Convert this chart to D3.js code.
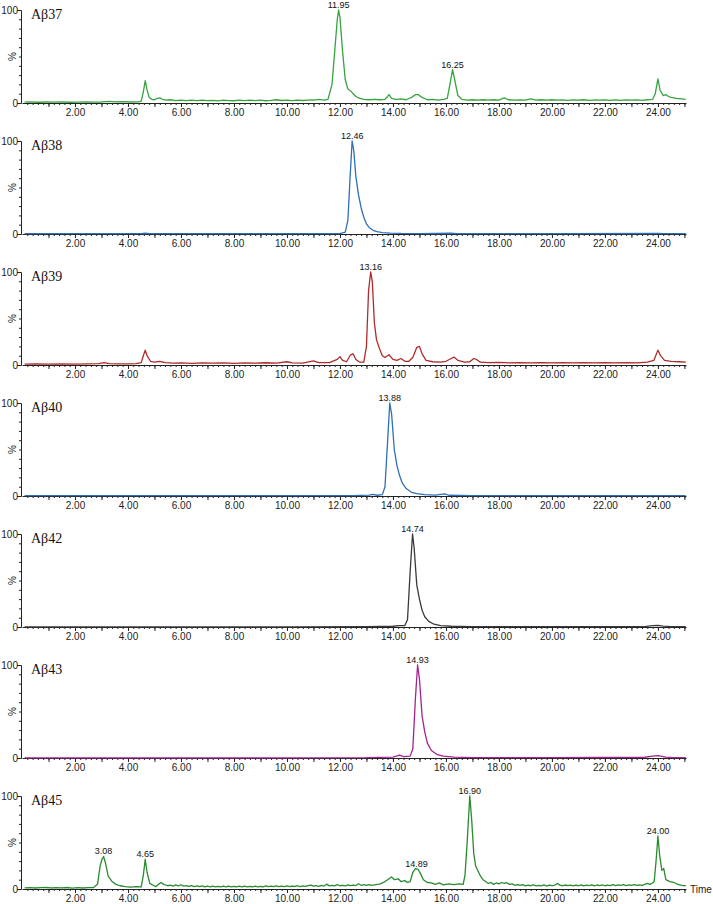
<!DOCTYPE html>
<html>
<head>
<meta charset="utf-8">
<script src="https://cdn.jsdelivr.net/npm/d3@7"></script>
<style>
  body { margin: 0; background: #fff; }
  svg { display: block; }
  .axis text { font-family: "Liberation Sans", Arial, sans-serif; font-size: 10px; fill: #222; }
  .axis path, .axis line { stroke: #222; stroke-width: 1; }
</style>
</head>
<body>
<svg id="chart"></svg>
<script>
// Panel names and trace colours
const panelNames = ["Aβ37", "Aβ38", "Aβ39", "Aβ40", "Aβ42", "Aβ43", "Aβ45"];
const panelColors = ["#36a43f", "#2f6fb8", "#b02b2b", "#2f6fb8", "#3a3a3a", "#a3248e", "#2a8a30"];

// Traces: [time (min), relative intensity (%)]
const ab37 = [[0.1,1],[0.3,1.2],[0.6,0.8],[0.9,1.1],[1.2,0.9],[1.5,1.2],[1.8,0.8],[2.1,1],[2.4,1.1],[2.7,0.9],[3.0,1.1],[3.3,1.8],[3.5,1.2],[3.8,1.4],[4.1,1.1],[4.4,1.3],[4.5,2],[4.58,12],[4.65,24],[4.72,14],[4.8,6],[4.9,4],[5.0,3.5],[5.1,5],[5.2,5.5],[5.3,4],[5.45,3],[5.6,3.5],[5.8,2.5],[6.0,3],[6.2,2.5],[6.4,3],[6.6,2.5],[6.8,3.2],[7.0,2.5],[7.2,2.8],[7.4,2.3],[7.6,3],[7.8,2.6],[8.0,2.4],[8.2,3],[8.4,2.5],[8.6,3.2],[8.8,2.6],[9.0,3],[9.2,2.4],[9.4,2.8],[9.6,3.5],[9.8,2.7],[10.0,3],[10.2,2.6],[10.4,3.2],[10.6,2.7],[10.8,3],[11.0,3.2],[11.2,4],[11.4,3],[11.55,4],[11.7,20],[11.8,55],[11.9,90],[11.95,100],[12.0,92],[12.1,55],[12.2,25],[12.3,15],[12.4,13],[12.5,10],[12.6,7],[12.75,5],[12.9,4],[13.1,3.5],[13.3,4],[13.5,3.5],[13.7,4],[13.8,7],[13.85,9],[13.95,5],[14.1,4],[14.3,4.5],[14.5,3.5],[14.7,6],[14.85,9],[14.95,9],[15.1,6],[15.3,3.5],[15.5,4],[15.7,3],[15.9,4],[16.05,5],[16.15,20],[16.25,36],[16.33,25],[16.45,8],[16.6,4],[16.8,3],[17.0,3.5],[17.2,3],[17.4,3.5],[17.6,3],[17.8,3.5],[18.0,3],[18.2,5.5],[18.35,3.5],[18.6,3],[18.8,3.4],[19.0,3],[19.2,4.5],[19.4,3],[19.6,3.5],[19.8,3],[20.0,3.5],[20.2,3],[20.4,3.3],[20.6,2.8],[20.8,3.4],[21.0,3],[21.2,3.5],[21.4,2.8],[21.6,3.2],[21.8,3],[22.0,3.4],[22.2,2.9],[22.4,3.3],[22.6,2.8],[22.8,3.3],[23.0,3],[23.2,3.3],[23.4,2.9],[23.6,3.5],[23.8,4],[23.9,10],[24.0,26],[24.08,14],[24.2,8],[24.3,9],[24.4,7],[24.5,6],[24.7,5],[24.9,4.5],[25.05,4]];
const ab38 = [[0.1,0.3],[2,0.3],[4.5,0.3],[4.65,0.8],[4.8,0.3],[8,0.3],[11,0.3],[12.0,0.5],[12.2,2],[12.3,15],[12.38,60],[12.46,100],[12.52,90],[12.6,62],[12.7,42],[12.8,28],[12.9,18],[13.0,11],[13.1,7],[13.25,4],[13.4,2.5],[13.6,1.5],[13.9,1],[14.3,0.6],[15,0.5],[16.2,0.8],[16.4,0.4],[20,0.3],[24,0.6],[24.2,0.3],[25.05,0.3]];
const ab39 = [[0.1,1],[0.5,1.2],[1,0.9],[1.5,1.1],[2,1],[2.5,1.2],[2.9,1.5],[3.1,2.5],[3.3,1.5],[3.6,1.2],[4,1.3],[4.3,1.4],[4.5,2.5],[4.58,10],[4.65,16],[4.72,10],[4.85,4],[5.0,3],[5.2,4],[5.4,2.5],[5.7,2],[6,2.2],[6.4,1.8],[6.8,2.3],[7.2,2],[7.6,2.2],[8.0,1.8],[8.4,2.2],[8.8,2],[9.2,2.4],[9.6,2],[10.0,3.5],[10.2,2.2],[10.6,2],[11.0,4.5],[11.2,2.5],[11.6,2.5],[11.9,6],[12.0,9],[12.1,5],[12.25,3.5],[12.4,11],[12.5,12],[12.6,6],[12.75,3],[12.9,3],[13.0,20],[13.08,80],[13.16,100],[13.22,90],[13.3,45],[13.38,27],[13.5,17],[13.6,10],[13.7,8],[13.85,11],[14.0,6],[14.15,5],[14.3,7],[14.45,4],[14.6,4],[14.75,8],[14.9,19],[15.0,20],[15.1,12],[15.25,5],[15.5,3.5],[15.8,3],[16.0,4],[16.2,7],[16.3,8.5],[16.45,5],[16.7,3],[16.9,3.5],[17.05,7],[17.15,6],[17.3,3],[17.6,2.5],[18,2.8],[18.4,2.3],[18.8,2.6],[19.2,2.2],[19.6,2.6],[20,2.3],[20.4,2.5],[20.8,2.2],[21.2,2.6],[21.6,2.2],[22,2.5],[22.4,2.3],[22.8,2.5],[23.2,2.3],[23.6,3],[23.85,5],[24.0,16],[24.1,10],[24.25,5],[24.5,4],[24.8,3.5],[25.05,3]];
const ab40 = [[0.1,0.3],[3,0.3],[6,0.3],[10,0.3],[12.5,0.4],[13.1,1],[13.25,1.8],[13.4,0.8],[13.6,1.5],[13.7,10],[13.8,60],[13.88,100],[13.95,88],[14.05,50],[14.15,33],[14.25,22],[14.35,14],[14.5,8],[14.7,4],[14.9,2.5],[15.2,1.5],[15.6,1],[15.95,2.2],[16.1,0.8],[17,0.5],[20,0.3],[25.05,0.3]];
const ab42 = [[0.1,0.2],[5,0.2],[10,0.2],[13,0.3],[14.0,0.8],[14.25,1.5],[14.45,1.5],[14.55,8],[14.65,60],[14.74,100],[14.8,85],[14.9,45],[15.0,30],[15.1,18],[15.2,11],[15.35,6],[15.55,3],[15.8,1.5],[16.2,0.8],[17,0.4],[20,0.3],[23.5,0.5],[23.8,1.5],[24.0,1.8],[24.2,1],[24.5,0.4],[25.05,0.3]];
const ab43 = [[0.1,0.2],[5,0.2],[10,0.2],[13,0.3],[14.0,1],[14.25,3],[14.4,1.5],[14.65,2],[14.75,10],[14.85,65],[14.93,100],[15.0,85],[15.1,45],[15.2,28],[15.3,16],[15.45,8],[15.65,4],[15.9,2],[16.3,1],[17,0.5],[20,0.3],[23.5,0.8],[23.8,2],[24.0,2.5],[24.3,1],[24.6,0.4],[25.05,0.3]];
const ab45 = [[0.1,1.2],[0.3,1.5],[0.5,1.1],[0.7,1.4],[0.9,1.6],[1.1,1.1],[1.3,1.5],[1.5,1.2],[1.7,1.6],[1.9,1],[2.1,1.5],[2.3,1.1],[2.5,1.4],[2.7,1.6],[2.85,5],[2.95,25],[3.02,32],[3.08,35],[3.15,28],[3.25,14],[3.4,8],[3.55,5],[3.7,3.5],[3.9,2.5],[4.1,2],[4.3,2.5],[4.5,2.3],[4.58,15],[4.65,32],[4.72,18],[4.82,6],[4.95,4],[5.05,2.5],[5.15,5],[5.25,7],[5.35,5],[5.5,3.5],[5.6,4.2],[5.7,3],[5.8,4.5],[5.9,3.2],[6.0,4.6],[6.1,3.1],[6.2,3.6],[6.3,2.8],[6.4,3.7],[6.5,2.6],[6.6,3.4],[6.7,2.5],[6.8,3.3],[6.9,2.4],[7.0,3.1],[7.1,2.2],[7.2,3],[7.3,2.3],[7.4,2.9],[7.5,2.2],[7.6,3.1],[7.7,2.4],[7.8,3.2],[7.9,2.3],[8.0,2.9],[8.1,2.2],[8.2,3],[8.3,2.4],[8.4,3.1],[8.5,2.3],[8.6,2.8],[8.7,2.2],[8.8,3],[8.9,2.4],[9.0,2.9],[9.1,2.3],[9.2,3.3],[9.3,2.5],[9.4,3.2],[9.5,2.6],[9.6,3.4],[9.7,2.5],[9.8,3.1],[9.9,2.6],[10.0,3.3],[10.1,2.5],[10.2,3.2],[10.3,2.7],[10.4,3.5],[10.5,2.6],[10.6,3.3],[10.7,2.8],[10.8,3.6],[10.9,4.2],[11.0,3],[11.1,3.6],[11.2,2.9],[11.3,3.8],[11.4,3.2],[11.5,5.2],[11.6,3.4],[11.7,3.9],[11.8,3.3],[11.9,4.8],[12.0,3.5],[12.1,4],[12.2,3.4],[12.3,4.4],[12.4,3.6],[12.5,4.2],[12.6,3.7],[12.7,5.6],[12.8,4],[12.9,4.6],[13.0,3.8],[13.1,4.7],[13.2,4],[13.3,4.4],[13.4,4.9],[13.5,5.2],[13.6,6.5],[13.7,8],[13.8,10],[13.95,13],[14.05,10],[14.2,11],[14.3,8],[14.45,9],[14.55,7],[14.65,8],[14.75,18],[14.85,22],[14.95,21],[15.05,16],[15.15,10],[15.3,7],[15.45,6.5],[15.6,5],[15.75,6.5],[15.9,4.5],[16.1,5.5],[16.3,4.8],[16.5,5.5],[16.65,5],[16.72,15],[16.8,50],[16.9,100],[16.97,75],[17.05,38],[17.12,25],[17.2,20],[17.3,14],[17.4,10],[17.5,8],[17.6,6],[17.7,7],[17.8,5],[17.9,6.5],[18.0,5.5],[18.1,7],[18.2,6],[18.3,6.8],[18.4,5],[18.5,5.5],[18.6,4],[18.7,4.8],[18.8,3.8],[18.9,4.6],[19.0,3.4],[19.1,4.2],[19.2,3.5],[19.3,4.6],[19.4,3.3],[19.5,4],[19.6,3.4],[19.7,4.5],[19.8,3.2],[19.9,4.1],[20.0,3.6],[20.1,4],[20.2,6],[20.3,4.2],[20.4,3.5],[20.5,4.3],[20.6,3.6],[20.7,4.2],[20.8,3.3],[20.9,4.1],[21.0,3.5],[21.1,4.4],[21.2,3.4],[21.3,4.2],[21.4,3.6],[21.5,4.5],[21.6,3.4],[21.7,4.3],[21.8,3.7],[21.9,4.4],[22.0,3.5],[22.1,4.2],[22.2,3.6],[22.3,4.8],[22.4,3.7],[22.5,4.5],[22.6,3.8],[22.7,4.6],[22.8,3.6],[22.9,4.4],[23.0,3.9],[23.1,4.7],[23.2,3.8],[23.3,4.5],[23.4,4],[23.5,5],[23.6,6],[23.7,5],[23.8,6.5],[23.86,8],[23.93,30],[24.0,57],[24.07,35],[24.15,20],[24.22,22],[24.3,10],[24.45,8],[24.6,7],[24.75,5],[24.9,4],[25.05,3.5]];
const traces = [ab37, ab38, ab39, ab40, ab42, ab43, ab45];

// Labelled peaks per panel: [time, height %]
const peaks = [
  [[11.95, 100], [16.25, 36]],
  [[12.46, 100]],
  [[13.16, 100]],
  [[13.88, 100]],
  [[14.74, 100]],
  [[14.93, 100]],
  [[3.08, 35], [4.65, 32], [14.89, 22], [16.90, 100], [24.00, 57]],
];

// Axis ticks
const xLabelTicks = [2, 4, 6, 8, 10, 12, 14, 16, 18, 20, 22, 24];
const xMajorTicks = d3.range(1, 26);
const xMinorTicks = d3.range(0.2, 25.05, 0.2);
const yTicks = [0, 10, 20, 30, 40, 50, 60, 70, 80, 90, 100];

const width = 713;
const height = 904;
const firstBase = 103;
const panelStep = 131;
const panelH = 93;

const svg = d3.select("#chart").attr("width", width).attr("height", height);

const x = d3.scaleLinear().domain([0, 25.06]).range([22, 686]);

traces.forEach((data, i) => {
  const base = firstBase + panelStep * i;
  const y = d3.scaleLinear().domain([0, 100]).range([base, base - panelH]);
  const g = svg.append("g");

  // minor x ticks
  g.append("g")
    .attr("class", "axis")
    .attr("transform", `translate(0,${base})`)
    .call(d3.axisBottom(x).tickValues(xMinorTicks).tickSize(2).tickFormat(""))
    .call((a) => a.select(".domain").remove());

  // major x ticks, labels on the even minutes
  g.append("g")
    .attr("class", "axis")
    .attr("transform", `translate(0,${base})`)
    .call(
      d3.axisBottom(x)
        .tickValues(xMajorTicks)
        .tickSize(4)
        .tickSizeOuter(0)
        .tickPadding(2)
        .tickFormat((d) => (xLabelTicks.includes(d) ? d.toFixed(2) : ""))
    );

  // y axis
  g.append("g")
    .attr("class", "axis")
    .attr("transform", `translate(${x(0) - 1},0)`)
    .call(
      d3.axisLeft(y)
        .tickValues(yTicks)
        .tickSizeOuter(0)
        .tickSize(2)
        .tickPadding(1)
        .tickFormat((d) => (d === 0 || d === 100 ? d : ""))
    )
    .call((a) =>
      a.selectAll(".tick line").attr("x2", (d) => (d === 0 || d === 100 ? -4 : -2))
    );

  g.append("text")
    .attr("transform", `translate(16,${base - panelH / 2}) rotate(-90)`)
    .attr("text-anchor", "middle")
    .attr("font-family", "Liberation Sans, Arial, sans-serif")
    .attr("font-size", 10)
    .attr("fill", "#222")
    .text("%");

  // trace
  const line = d3.line().x((d) => x(d[0])).y((d) => y(d[1]));
  g.append("path")
    .datum(data)
    .attr("fill", "none")
    .attr("stroke", panelColors[i])
    .attr("stroke-width", 1.3)
    .attr("stroke-linejoin", "round")
    .attr("d", line);

  // panel title
  g.append("text")
    .attr("x", 31)
    .attr("y", base - panelH + 9)
    .attr("font-family", "Liberation Serif, Times New Roman, serif")
    .attr("font-size", 14)
    .attr("fill", "#111")
    .text(panelNames[i]);

  // peak labels
  g.selectAll(".peak")
    .data(peaks[i])
    .enter()
    .append("text")
    .attr("x", (d) => x(d[0]))
    .attr("y", (d) => y(d[1]) - 2)
    .attr("text-anchor", "middle")
    .attr("font-family", "Liberation Sans, Arial, sans-serif")
    .attr("font-size", 9)
    .attr("fill", "#111")
    .text((d) => d[0].toFixed(2));
});

svg.append("text")
  .attr("x", 690)
  .attr("y", firstBase + panelStep * 6 + 4)
  .attr("font-family", "Liberation Sans, Arial, sans-serif")
  .attr("font-size", 10)
  .attr("fill", "#222")
  .text("Time");
</script>
</body>
</html>
